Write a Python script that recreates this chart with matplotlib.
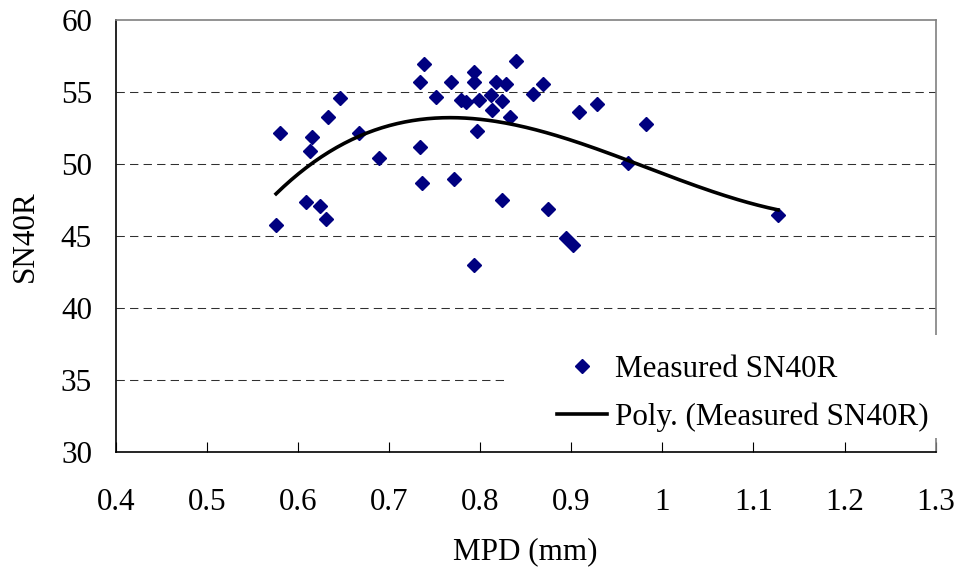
import numpy as np
import matplotlib.pyplot as plt
from matplotlib.patches import Rectangle

plt.rcParams['font.family'] = ['Liberation Serif', 'DejaVu Serif']
plt.rcParams['font.size'] = 22.4

mpd = [0.580, 0.576, 0.615, 0.613, 0.609, 0.624, 0.631, 0.633, 0.646, 0.667,
       0.689, 0.734, 0.738, 0.734, 0.736, 0.751, 0.768, 0.771, 0.779, 0.784,
       0.793, 0.793, 0.799, 0.797, 0.793, 0.812, 0.817, 0.813, 0.824, 0.828,
       0.833, 0.824, 0.839, 0.858, 0.869, 0.874, 0.894, 0.902, 0.909, 0.928,
       0.982, 0.962, 1.127]
sn40r = [52.2, 45.8, 51.9, 50.9, 47.4, 47.1, 46.2, 53.3, 54.6, 52.2,
         50.4, 55.7, 57.0, 51.2, 48.7, 54.7, 55.7, 49.0, 54.5, 54.3,
         56.4, 55.7, 54.5, 52.3, 43.0, 54.8, 55.7, 53.8, 54.4, 55.6,
         53.3, 47.5, 57.2, 54.9, 55.6, 46.9, 44.9, 44.4, 53.6, 54.2,
         52.8, 50.1, 46.5]
x_ticks = [0.4, 0.5, 0.6, 0.7, 0.8, 0.9, 1.0, 1.1, 1.2, 1.3]
x_labels = ['0.4', '0.5', '0.6', '0.7', '0.8', '0.9', '1', '1.1', '1.2', '1.3']
y_ticks = [30, 35, 40, 45, 50, 55, 60]

fig = plt.figure(figsize=(9.58, 5.74), dpi=100)
ax = fig.add_axes([0.1208, 0.2131, 0.8559, 0.7512])

ax.plot(mpd, sn40r, linestyle='none', marker='D', markersize=7.6,
        color='#000080', label='Measured SN40R', zorder=3)

# polynomial trendline (order 3) from the measured data
coef = np.polyfit(mpd, sn40r, 3)
xs = np.linspace(min(mpd), max(mpd), 200)
ax.plot(xs, np.polyval(coef, xs), color='black', lw=2.6,
        label='Poly. (Measured SN40R)', zorder=3)

ax.set_xlim(0.4, 1.3)
ax.set_ylim(30, 60)
ax.set_xticks(x_ticks)
ax.set_xticklabels(x_labels)
ax.set_yticks(y_ticks)

for yv in y_ticks[1:-1]:
    ax.axhline(yv, color='#303030', lw=0.75, linestyle=(0, (8, 5)), zorder=1)

ax.tick_params(axis='x', direction='in', length=7.5, width=0.8, pad=26)
ax.tick_params(axis='y', length=0, pad=17)

for s in ['top', 'right']:
    ax.spines[s].set_color('#808080')
    ax.spines[s].set_linewidth(1.2)
for s in ['left', 'bottom']:
    ax.spines[s].set_color('black')
    ax.spines[s].set_linewidth(1.2)

ax.set_xlabel('MPD (mm)', labelpad=15)
ax.set_ylabel('SN40R', labelpad=15)

# white legend area that hides the grid and right border
ax.add_patch(Rectangle((0.477, 0.032), 0.53, 0.239, transform=ax.transAxes,
                       facecolor='white', edgecolor='none', clip_on=False, zorder=4))

leg = ax.legend(loc='upper left', bbox_to_anchor=(0.581, 0.382),
                bbox_transform=fig.transFigure, frameon=False, numpoints=1,
                borderpad=0, borderaxespad=0, handlelength=1.62,
                handletextpad=0.25, labelspacing=0.6)
leg.set_zorder(5)

fig.savefig('out.png', dpi=100)
